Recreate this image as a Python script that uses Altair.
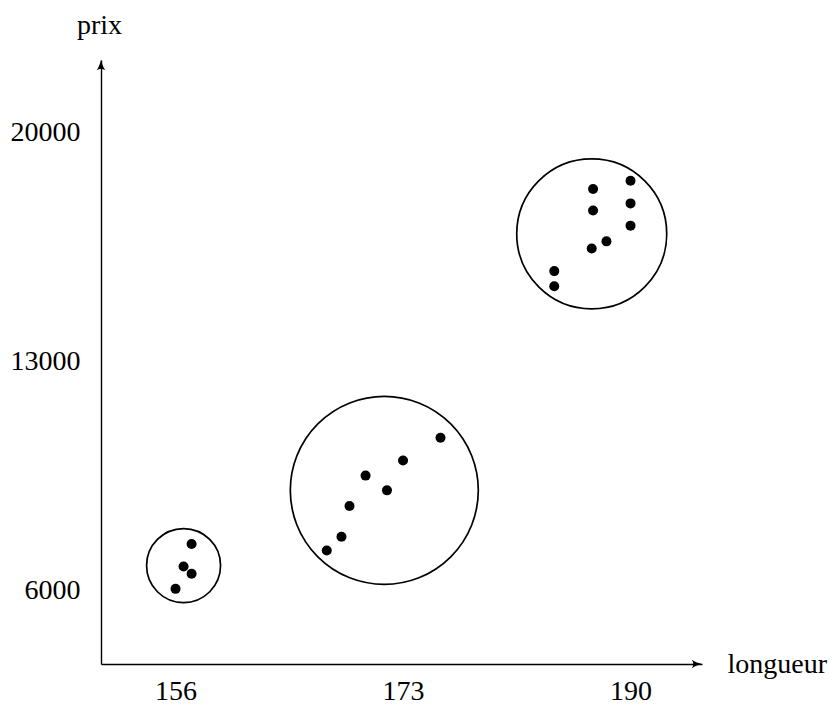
import altair as alt
import pandas as pd

# --- data ---
longueur = [157.2, 156.6, 157.2, 156.0,
            175.8, 173.0, 170.2, 171.8, 169.0, 168.4, 167.3,
            187.2, 190.0, 187.2, 190.0, 190.0, 188.2, 187.1, 184.3, 184.3]
prix = [7430, 6740, 6520, 6060,
        10680, 9980, 9520, 9070, 8590, 7650, 7230,
        18280, 18530, 17620, 17840, 17160, 16680, 16460, 15770, 15310]

cluster_longueur = [156.6, 171.6, 187.1]
cluster_prix = [6770, 9070, 16910]
cluster_diam_px = [74, 188, 150]

x_ticks = [156, 173, 190]
y_ticks = [6000, 13000, 20000]
x_domain = [150.43, 195.34]
y_domain = [3763, 22222]

FONT = "Liberation Serif"
FS = 28
W, H = 601, 604

pts = pd.DataFrame({"longueur": longueur, "prix": prix})
clu = pd.DataFrame({"longueur": cluster_longueur, "prix": cluster_prix,
                    "size": [d * d for d in cluster_diam_px]})
arrow_r = pd.DataFrame({"longueur": [x_domain[1]], "prix": [y_domain[0]]})
arrow_u = pd.DataFrame({"longueur": [x_domain[0]], "prix": [y_domain[1]]})

xs = alt.Scale(domain=x_domain, nice=False, zero=False)
ys = alt.Scale(domain=y_domain, nice=False, zero=False)

x_axis = alt.Axis(values=x_ticks, format="d", grid=False, ticks=False, tickSize=0,
                  domainColor="black", domainWidth=1.4,
                  labelFont=FONT, labelFontSize=FS, labelColor="black",
                  labelPadding=13, labelAngle=0,
                  title="longueur", titleFont=FONT, titleFontSize=FS,
                  titleFontWeight="normal", titleColor="black",
                  titleX=626, titleY=8, titleAlign="left",
                  titleBaseline="alphabetic", titleAngle=0)
y_axis = alt.Axis(values=y_ticks, format="d", grid=False, ticks=False, tickSize=0,
                  domainColor="black", domainWidth=1.4,
                  labelFont=FONT, labelFontSize=FS, labelColor="black",
                  labelPadding=21, labelBaseline="middle",
                  title="prix", titleFont=FONT, titleFontSize=FS,
                  titleFontWeight="normal", titleColor="black",
                  titleX=-2, titleY=-27, titleAlign="center",
                  titleBaseline="alphabetic", titleAngle=0)

points = alt.Chart(pts).mark_point(filled=True, color="black", opacity=1,
                                   shape="circle", size=100).encode(
    x=alt.X("longueur:Q", scale=xs, axis=x_axis),
    y=alt.Y("prix:Q", scale=ys, axis=y_axis),
)

circles = alt.Chart(clu).mark_point(filled=False, color="black", opacity=1,
                                    shape="circle", strokeWidth=1.7).encode(
    x=alt.X("longueur:Q", scale=xs),
    y=alt.Y("prix:Q", scale=ys),
    size=alt.Size("size:Q", scale=None, legend=None),
)

right_path = "M0,0 C-0.3,-0.08 -0.7,-0.2 -1,-0.42 C-0.8,-0.15 -0.8,0.15 -1,0.42 C-0.7,0.2 -0.3,0.08 0,0 Z"
up_path = "M0,0 C-0.08,0.3 -0.2,0.7 -0.42,1 C-0.15,0.8 0.15,0.8 0.42,1 C0.2,0.7 0.08,0.3 0,0 Z"

arr_r = alt.Chart(arrow_r).mark_point(shape=right_path, filled=True, color="black",
                                      opacity=1, size=420, strokeWidth=0.5).encode(
    x=alt.X("longueur:Q", scale=xs),
    y=alt.Y("prix:Q", scale=ys),
)
arr_u = alt.Chart(arrow_u).mark_point(shape=up_path, filled=True, color="black",
                                      opacity=1, size=420, strokeWidth=0.5).encode(
    x=alt.X("longueur:Q", scale=xs),
    y=alt.Y("prix:Q", scale=ys),
)

chart = alt.layer(circles, points, arr_r, arr_u).properties(
    width=W, height=H,
    autosize=alt.AutoSizeParams(type="none"),
    padding={"left": 93, "top": 52, "right": 128, "bottom": 42},
    background="white",
).configure_view(stroke=None)

chart.save("out.html", embed_options={"renderer": "svg", "actions": False})
